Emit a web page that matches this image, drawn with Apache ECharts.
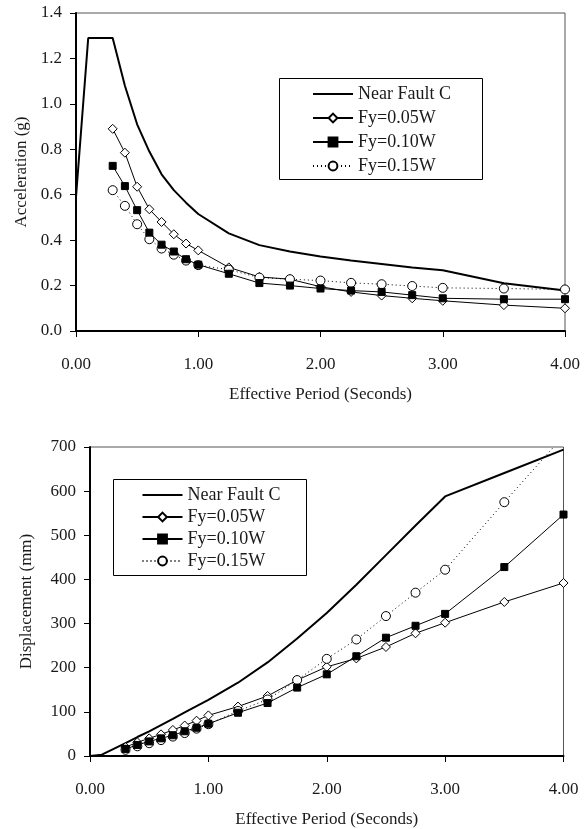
<!DOCTYPE html>
<html><head><meta charset="utf-8">
<script src="https://cdn.jsdelivr.net/npm/echarts@6/dist/echarts.min.js"></script>
<style>html,body{margin:0;padding:0;background:#fff}#c{width:587px;height:829px}</style>
</head><body><div id="c"></div>
<script>
// ---- data ----
const seriesNames = ['Near Fault C', 'Fy=0.05W', 'Fy=0.10W', 'Fy=0.15W'];
const periodsNF = [0, 0.1, 0.3, 0.4, 0.5, 0.6, 0.7, 0.8, 0.9, 1.0, 1.25, 1.5, 1.75, 2.0, 2.25, 2.5, 2.75, 3.0, 3.5, 4.0];
const accNearFault = [0.59, 1.29, 1.29, 1.08, 0.91, 0.79, 0.69, 0.62, 0.565, 0.515, 0.43, 0.378, 0.35, 0.328, 0.31, 0.295, 0.28, 0.267, 0.21, 0.178];
const dispNearFault = [0, 3, 29, 43, 56, 70, 84, 99, 113, 127, 166, 212, 266, 324, 388, 455, 522, 588, 641, 694];
const periods = [0.3, 0.4, 0.5, 0.6, 0.7, 0.8, 0.9, 1.0, 1.25, 1.5, 1.75, 2.0, 2.25, 2.5, 2.75, 3.0, 3.5, 4.0];
const acc005 = [0.89, 0.785, 0.635, 0.536, 0.48, 0.426, 0.385, 0.355, 0.28, 0.238, 0.228, 0.195, 0.172, 0.156, 0.144, 0.133, 0.114, 0.10];
const acc010 = [0.727, 0.638, 0.532, 0.433, 0.38, 0.35, 0.316, 0.292, 0.252, 0.211, 0.2, 0.187, 0.178, 0.172, 0.158, 0.144, 0.14, 0.14];
const acc015 = [0.62, 0.551, 0.47, 0.404, 0.363, 0.336, 0.31, 0.29, 0.27, 0.235, 0.228, 0.222, 0.212, 0.206, 0.198, 0.19, 0.187, 0.183];
const disp005 = [20, 31, 40, 49, 59, 69, 80, 92, 112, 136, 172, 202, 221, 247, 278, 302, 349, 392];
const disp010 = [16, 25, 33, 40, 47, 56, 64, 73, 98, 120, 155, 185, 226, 268, 295, 322, 428, 547];
const disp015 = [14, 22, 29, 36, 44, 52, 62, 72, 102, 128, 172, 220, 264, 317, 370, 422, 575, 725];
const xAxisTitle = 'Effective Period (Seconds)';
const yTitleTop = 'Acceleration (g)';
const yTitleBottom = 'Displacement (mm)';

// ---- chart ----
const FONT = '"Liberation Serif", "DejaVu Serif", serif';
const TXT = '#1a1a1a';
const pairs = (xs, ys) => xs.map((x, i) => [x, ys[i]]);

function xAxisCfg(gi) {
  return {
    type: 'value', gridIndex: gi, min: 0, max: 4, interval: 1,
    name: xAxisTitle, nameLocation: 'middle', nameGap: 55,
    nameTextStyle: { fontFamily: FONT, fontSize: 17, color: TXT },
    axisLine: { show: true, onZero: false, lineStyle: { color: '#000', width: 2 } },
    axisTick: { show: true, inside: false, length: 6, lineStyle: { color: '#000', width: 1 } },
    axisLabel: { fontFamily: FONT, fontSize: 17, color: TXT, margin: 25, formatter: v => v.toFixed(2) },
    splitLine: { show: false }
  };
}
function yAxisCfg(gi, max, interval, name, gap, fmt) {
  return {
    type: 'value', gridIndex: gi, min: 0, max: max, interval: interval,
    name: name, nameLocation: 'middle', nameGap: gap, nameRotate: 90,
    nameTextStyle: { fontFamily: FONT, fontSize: 17, color: TXT },
    axisLine: { show: true, onZero: false, lineStyle: { color: '#000', width: 2 } },
    axisTick: { show: true, inside: false, length: 6, lineStyle: { color: '#000', width: 1 } },
    axisLabel: { fontFamily: FONT, fontSize: 17, color: TXT, margin: 14, formatter: fmt },
    splitLine: { show: false }
  };
}
function seriesSet(gi, nf, d05, d10, d15) {
  const base = { type: 'line', xAxisIndex: gi, yAxisIndex: gi, animation: false };
  return [
    Object.assign({}, base, { name: seriesNames[0], data: pairs(periodsNF, nf), symbol: 'none',
      lineStyle: { color: '#000', width: 2 }, itemStyle: { color: '#000' }, z: 2 }),
    Object.assign({}, base, { name: seriesNames[1], data: pairs(periods, d05), symbol: 'diamond', symbolSize: 9,
      lineStyle: { color: '#000', width: 1 }, itemStyle: { color: '#fff', borderColor: '#000', borderWidth: 1 }, z: 3 }),
    Object.assign({}, base, { name: seriesNames[2], data: pairs(periods, d10), symbol: 'rect', symbolSize: 7,
      lineStyle: { color: '#000', width: 1 }, itemStyle: { color: '#000', borderColor: '#000', borderWidth: 1 }, z: 4 }),
    Object.assign({}, base, { name: seriesNames[3], data: pairs(periods, d15), symbol: 'circle', symbolSize: 9,
      lineStyle: { color: '#000', width: 1, type: [1, 3] }, itemStyle: { color: '#fff', borderColor: '#000', borderWidth: 1 }, z: 3 })
  ];
}
function legendCfg(left, top, gap) {
  return {
    orient: 'vertical', left: left, top: top, padding: 0, itemGap: gap,
    itemWidth: 40, itemHeight: 11,
    data: [
      { name: seriesNames[0], itemStyle: { opacity: 0 } },
      seriesNames[1], seriesNames[2], seriesNames[3]
    ],
    textStyle: { fontFamily: FONT, fontSize: 18, color: TXT, lineHeight: 18 },
    selectedMode: false
  };
}

const chart = echarts.init(document.getElementById('c'), null, { renderer: 'canvas' });
chart.setOption({
  backgroundColor: '#fff',
  animation: false,
  grid: [
    { left: 76, top: 13, width: 489, height: 318, show: true, borderColor: '#555', borderWidth: 1, backgroundColor: 'transparent' },
    { left: 90, top: 447, width: 473.5, height: 309, show: true, borderColor: '#555', borderWidth: 1, backgroundColor: 'transparent' }
  ],
  xAxis: [xAxisCfg(0), xAxisCfg(1)],
  yAxis: [
    yAxisCfg(0, 1.4, 0.2, yTitleTop, 42, v => v.toFixed(1)),
    yAxisCfg(1, 700, 100, yTitleBottom, 55, v => String(v))
  ],
  legend: [legendCfg(312, 85, 6), legendCfg(141.5, 486, 4)],
  graphic: [
    { type: 'rect', shape: { x: 279.5, y: 78.5, width: 203, height: 101 }, style: { fill: 'none', stroke: '#000', lineWidth: 1 }, z: -1 },
    { type: 'rect', shape: { x: 113.5, y: 479.5, width: 193, height: 96 }, style: { fill: 'none', stroke: '#000', lineWidth: 1 }, z: -1 }
  ],
  series: [].concat(
    seriesSet(0, accNearFault, acc005, acc010, acc015),
    seriesSet(1, dispNearFault, disp005, disp010, disp015)
  )
});
</script>
</body></html>
